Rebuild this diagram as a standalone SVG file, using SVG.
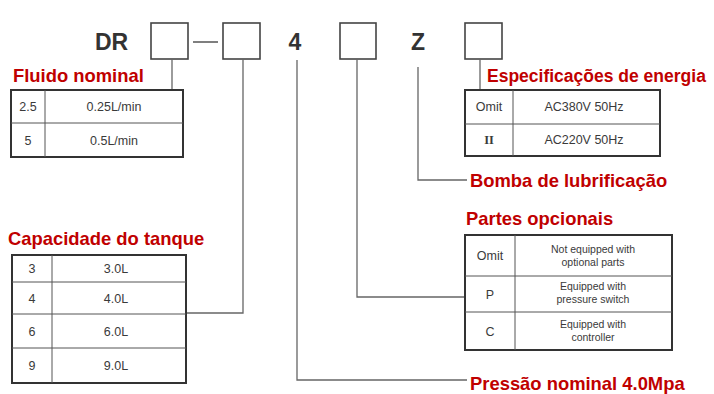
<svg xmlns="http://www.w3.org/2000/svg" width="714" height="394" viewBox="0 0 714 394">
<style>
.code{font-family:"Liberation Sans",Arial,sans-serif;font-size:23px;font-weight:bold;fill:#333}
.box{fill:none;stroke:#444;stroke-width:1.6}
.ttl{font-family:"Liberation Sans",Arial,sans-serif;font-size:18.4px;font-weight:bold;fill:#C00000}
.tb{fill:#fff;stroke:#333;stroke-width:2}
.in{stroke:#555;stroke-width:1}
.t{font-family:"Liberation Sans",Arial,sans-serif;font-size:12.5px;fill:#3a3a3a;text-anchor:middle}
.s{font-family:"Liberation Sans",Arial,sans-serif;font-size:10.5px;fill:#3a3a3a;text-anchor:middle}
.con{fill:none;stroke:#666;stroke-width:1.3}
</style>
<rect width="714" height="394" fill="#fff"/>
<g id="code">
<text class="code" x="95" y="50">DR</text>
<rect class="box" x="151" y="23" width="37" height="36"/>
<line x1="193" y1="42" x2="218" y2="42" stroke="#555" stroke-width="1.5"/>
<rect class="box" x="223" y="23" width="37" height="36"/>
<text class="code" x="295" y="50" text-anchor="middle">4</text>
<rect class="box" x="340" y="23" width="36" height="36"/>
<text class="code" x="418" y="50" text-anchor="middle">Z</text>
<rect class="box" x="465" y="23" width="37" height="36"/>
</g>
<g id="connectors">
<polyline class="con" points="172,59 172,90"/>
<polyline class="con" points="243,59 243,313 186,313"/>
<polyline class="con" points="297,60 297,380 467,380"/>
<polyline class="con" points="357,59 357,297 465,297"/>
<polyline class="con" points="418,67 418,180 467,180"/>
<polyline class="con" points="480,59 480,90"/>
</g>
<g id="fluido">
<text class="ttl" x="13" y="82">Fluido nominal</text>
<rect class="tb" x="11" y="90" width="172" height="67"/>
<line class="in" x1="45" y1="90" x2="45" y2="157"/>
<line class="in" x1="11" y1="123" x2="183" y2="123"/>
<text class="t" x="28" y="111">2.5</text>
<text class="t" x="114" y="111">0.25L/min</text>
<text class="t" x="28" y="145">5</text>
<text class="t" x="114" y="145">0.5L/min</text>
</g>
<g id="energia">
<text class="ttl" x="487" y="82" style="font-size:17.5px">Especificações de energia</text>
<rect class="tb" x="465" y="90" width="195" height="66"/>
<line class="in" x1="513" y1="90" x2="513" y2="156"/>
<line class="in" x1="465" y1="124" x2="660" y2="124"/>
<text class="t" x="489" y="111">Omit</text>
<text class="t" x="584" y="111">AC380V 50Hz</text>
<text class="t" x="489" y="144" style="font-family:'Liberation Serif',serif;font-weight:bold">II</text>
<text class="t" x="584" y="144">AC220V 50Hz</text>
</g>
<g id="bomba">
<text class="ttl" x="470" y="187">Bomba de lubrificação</text>
</g>
<g id="tanque">
<text class="ttl" x="8" y="245">Capacidade do tanque</text>
<rect class="tb" x="12" y="255" width="174" height="128"/>
<line class="in" x1="52" y1="255" x2="52" y2="383"/>
<line class="in" x1="12" y1="282" x2="186" y2="282"/>
<line class="in" x1="12" y1="314" x2="186" y2="314"/>
<line class="in" x1="12" y1="348" x2="186" y2="348"/>
<text class="t" x="32" y="273">3</text>
<text class="t" x="116" y="273">3.0L</text>
<text class="t" x="32" y="303">4</text>
<text class="t" x="116" y="303">4.0L</text>
<text class="t" x="32" y="336">6</text>
<text class="t" x="116" y="336">6.0L</text>
<text class="t" x="32" y="370">9</text>
<text class="t" x="116" y="370">9.0L</text>
</g>
<g id="partes">
<text class="ttl" x="466" y="225">Partes opcionais</text>
<rect class="tb" x="465" y="235" width="207" height="115"/>
<line class="in" x1="515" y1="235" x2="515" y2="350"/>
<line class="in" x1="465" y1="276" x2="672" y2="276"/>
<line class="in" x1="465" y1="312" x2="672" y2="312"/>
<text class="t" x="490" y="260">Omit</text>
<text class="s" x="593" y="253">Not equipped with</text>
<text class="s" x="593" y="266">optional parts</text>
<text class="t" x="490" y="299">P</text>
<text class="s" x="593" y="290">Equipped with</text>
<text class="s" x="593" y="303">pressure switch</text>
<text class="t" x="490" y="336">C</text>
<text class="s" x="593" y="328">Equipped with</text>
<text class="s" x="593" y="341">controller</text>
</g>
<g id="pressao">
<text class="ttl" x="470" y="390">Pressão nominal 4.0Mpa</text>
</g>
</svg>
